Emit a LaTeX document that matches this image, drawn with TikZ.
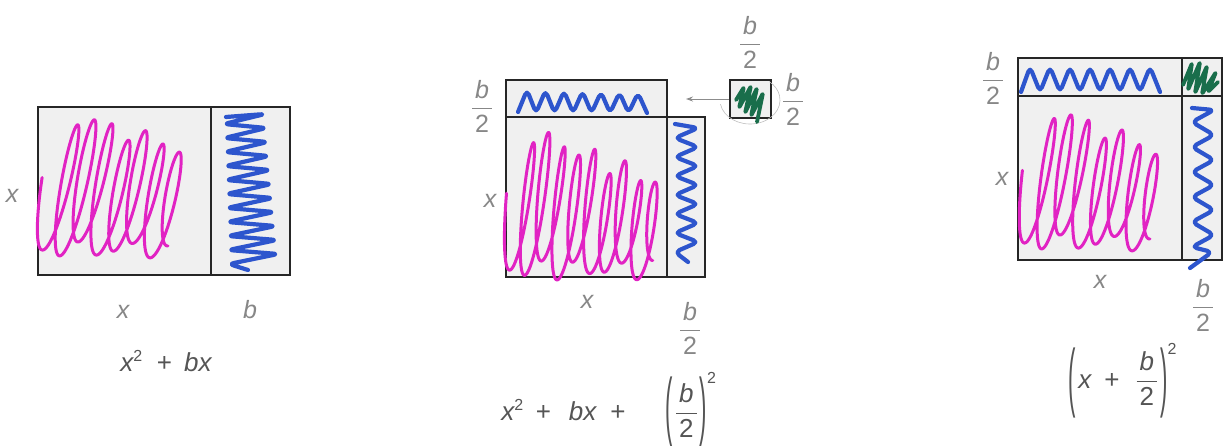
\documentclass[tikz,border=0pt]{standalone}
\usepackage{fix-cm}
\usepackage{graphicx}
\usepackage{fontspec}
\setmainfont{Liberation Sans}
\usetikzlibrary{arrows.meta}
\definecolor{mag}{RGB}{225,35,195}
\definecolor{blu}{RGB}{45,85,205}
\definecolor{grn}{RGB}{25,110,75}
\definecolor{lblgray}{RGB}{135,135,135}
\definecolor{frmgray}{RGB}{85,85,85}
\definecolor{boxfill}{RGB}{240,240,240}
\newcommand\vx{\mbox{\itshape x}}
\newcommand\hb{{\displaystyle\frac{\mbox{\kern3pt\itshape b\kern3pt}}{\mbox{2}}}}
\newcommand\sq{^{\mbox{\fontsize{16}{16}\selectfont 2}}}
\newcommand\pl[2]{\mbox{\hspace{#1pt}+\hspace{#2pt}}}
\newcommand\lp[1]{\mbox{\raisebox{#1pt}{\scalebox{0.85}[2.9]{(}}\hspace{2pt}}}
\newcommand\rp[1]{\mbox{\hspace{2pt}\raisebox{#1pt}{\scalebox{0.85}[2.9]{)}}}}
\begin{document}
\begin{tikzpicture}[x=1pt,y=-1pt,
  box/.style={draw=black!85, line width=1.5pt, fill=boxfill},
  edge/.style={draw=black!85, line width=1.5pt},
  lbl/.style={text=lblgray, font=\fontsize{25}{29}\selectfont, inner sep=0pt},
  frm/.style={text=frmgray, font=\fontsize{26}{30}\selectfont, inner sep=0pt},
  mpen/.style={draw=mag, line width=3pt, line cap=round, line join=round},
  bpen/.style={draw=blu, line width=4.2pt, line cap=round, line join=round, rounded corners=5pt},
  gpen/.style={draw=grn, line width=3.8pt, line cap=round, line join=round, rounded corners=2pt}]
\useasboundingbox (0,0) rectangle (1225,445);

% ---------- panel 1 ----------
\draw[box] (38,107) rectangle (211,275);
\draw[box] (211,107) rectangle (290,275);
\draw[mpen] plot[variable=\t, domain=-0.25:7, samples=650, smooth]
  ({42 + 18*\t + 9*sin(360*\t) + 0.2*(135-5*\t)*(1-cos(360*\t))/2},
   {250 + 8*sin(133*\t) - (135-5*\t)*(1-cos(360*\t))/2});
\draw[bpen] (226,117) \foreach \i in {0,...,10} { -- ({265+1.3*\i},{114+14*\i}) -- ({224+0.5*\i},{124+14*\i}) } -- (248,270);
\node[lbl, anchor=base] (p1xl) at (12,202) {\itshape x};
\node[lbl, anchor=base] (p1xb) at (123,318) {\itshape x};
\node[lbl, anchor=base] (p1b) at (250,318) {\itshape b};
\node[frm, anchor=base] (p1f) at (166,371) {$\vx\sq\pl{14}{12}\mbox{\itshape bx}$};

% ---------- panel 2 ----------
\draw[box] (506,80) rectangle (667,117);
\draw[box] (506,117) rectangle (667,277);
\draw[box] (667,117) rectangle (705,277);
\node[box, minimum width=41pt, minimum height=38pt, inner sep=0pt] (gsq) at (750.5,99) {};
\draw[black!25, line width=0.6pt] (750,100) ++(170:30 and 24) arc[start angle=170, end angle=-50, x radius=30, y radius=24];
\coordinate (atip) at (686,99);
\draw[-{Stealth[length=7pt,width=5pt]}, draw=black!45, line width=0.9pt] (gsq.west) -- (atip);
\draw[mpen] plot[variable=\t, domain=-0.25:9, samples=750, smooth]
  ({509 + 16*\t + 7*sin(360*\t) + 0.12*(140-6.1*\t)*(1-cos(360*\t))/2},
   {270 + 10*sin(148*\t) - (140-6.1*\t)*(1-cos(360*\t))/2});
\draw[bpen] (518,112) \foreach \i in {0,...,6} { -- ({527+18.5*\i},{90+0.5*\i}) -- ({536+18.5*\i},113) };
\draw[bpen] (675,124) \foreach \i in {0,...,6} { -- (698,{128+19*\i}) -- (675,{138+19*\i}) } -- (688,262);
\draw[gpen] (736,100) -- (744,87) -- (739,108) -- (751,86) -- (745,113) -- (757,88) -- (751,116) -- (763,93) -- (757,122);
\node[lbl] (p2bl) at (482,106) {$\hb$};
\node[lbl, anchor=base] (p2xl) at (490,207) {\itshape x};
\node[lbl, anchor=base] (p2xb) at (587,308) {\itshape x};
\node[lbl] (p2bb) at (690,328) {$\hb$};
\node[lbl] (p2bt) at (750,42) {$\hb$};
\node[lbl] (p2br) at (793,99) {$\hb$};
\node[frm, anchor=base] (p2f) at (609,420) {$\vx\sq\pl{12}{18}\mbox{\itshape bx}\pl{14}{40}\lp{-11}\hb\rp{-11}\sq$};

% ---------- panel 3 ----------
\draw[box] (1018,58) rectangle (1222,260);
\draw[edge] (1018,96) -- (1222,96);
\draw[edge] (1182,58) -- (1182,260);
\draw[mpen] plot[variable=\t, domain=-0.25:7, samples=650, smooth]
  ({1024 + 18*\t + 8*sin(360*\t) + 0.16*(135-6.4*\t)*(1-cos(360*\t))/2},
   {243 + 8*sin(133*\t) - (135-6.4*\t)*(1-cos(360*\t))/2});
\draw[bpen] (1021,92) \foreach \i in {0,...,6} { -- ({1030+20*\i},67) -- ({1040+20*\i},92) };
\draw[bpen] (1192,108) \foreach \i in {0,...,5} { -- (1214,{110+25*\i}) -- (1192,{122+25*\i}) } -- (1212,252) -- (1190,268);
\draw[gpen] (1183,85) -- (1192,63) -- (1188,90) -- (1200,62) -- (1195,93) -- (1207,66) -- (1202,94) -- (1216,72) -- (1208,92) -- (1218,82);
\node[lbl] (p3bl) at (993,78) {$\hb$};
\node[lbl, anchor=base] (p3xl) at (1002,185) {\itshape x};
\node[lbl, anchor=base] (p3xb) at (1100,288) {\itshape x};
\node[lbl] (p3bb) at (1203,305) {$\hb$};
\node[frm, anchor=base] (p3f) at (1123,388) {$\lp{-14}\vx\pl{13}{16}\hb\rp{-14}\sq$};
\end{tikzpicture}
\end{document}
